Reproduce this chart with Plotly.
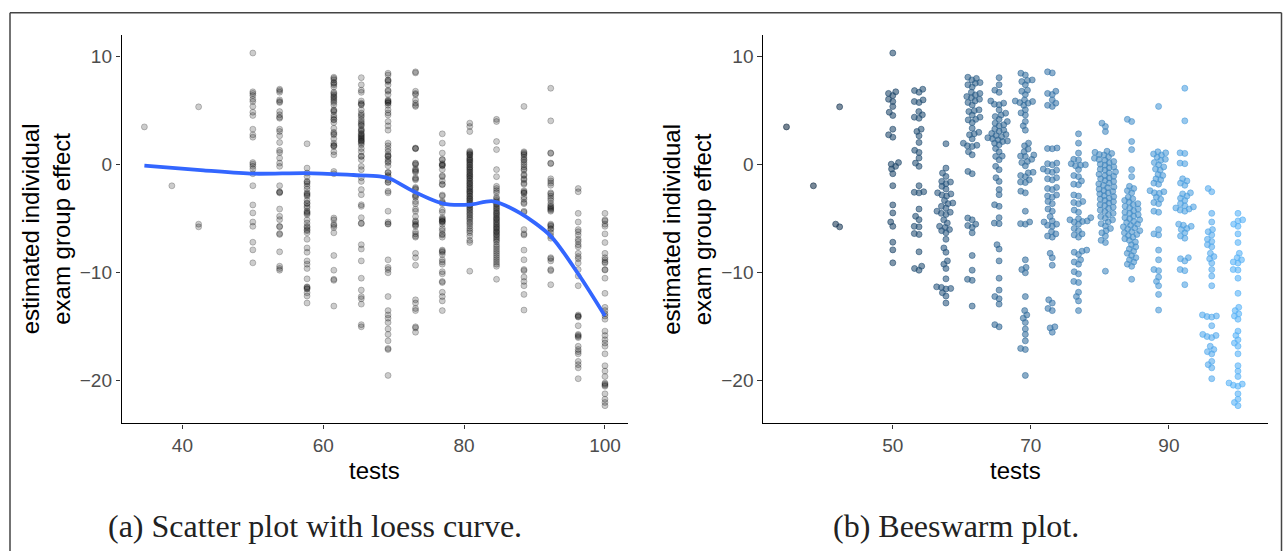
import math
import plotly.graph_objects as go

# ---------------- data ----------------
tests = [34.6, 38.5, 42.3, 50.0, 53.8, 57.7, 61.5, 65.4, 69.2, 73.1,
         76.9, 80.8, 84.6, 88.5, 92.3, 96.2, 100.0]

eff_t35 = [3.5]
eff_t38 = [-1.95]
eff_t42 = [5.36, -5.5, -5.75]
eff_t50 = [10.34, 6.75, 6.6, 6.4, 6.06, 5.85, 5.39, 4.86, 4.56, 3.29, 2.77, 2.55,
           0.2, 0.05, -0.15, -0.4, -0.83, -1.94, -3.72, -4.46, -5.3, -5.7, -7.17,
           -7.88, -9.08]
eff_t54 = [6.99, 6.86, 6.71, 6.0, 5.85, 5.76, 4.92, 4.62, 4.4, 4.3, 3.29, 3.08, 2.68,
           2.06, 1.33, 1.14, 0.62, 0.15, -0.15, -1.94, -2.5, -2.55, -2.6, -4.1, -4.77,
           -5.08, -5.7, -5.75, -6.37, -6.45, -8.06, -9.39, -9.6, -9.76]
eff_t58 = [1.94, -0.31, -0.77, -1.08, -1.54, -1.6, -1.75, -2.0, -2.25, -2.6, -2.7,
           -2.8, -2.9, -3.3, -3.54, -3.6, -3.85, -4.0, -4.3, -4.4, -4.5, -4.6, -5.1,
           -5.4, -5.7, -5.8, -6.0, -6.1, -6.3, -6.9, -7.7, -8.1, -8.9, -9.2, -9.6,
           -10.56, -11.3, -11.35, -11.45, -11.5, -11.85, -12.15, -12.8]
eff_t62 = [8.1, 7.99, 7.85, 7.6, 7.54, 7.4, 7.2, 6.71, 6.6, 6.46, 6.31, 6.2, 6.06,
           5.9, 5.76, 5.54, 5.08, 5.0, 4.92, 4.6, 4.4, 4.2, 4.15, 3.9, 3.38, 3.0,
           2.86, 2.77, 2.4, 1.99, 1.8, 1.75, 1.69, 1.2, 0.92, -0.62, -0.83, -4.93,
           -5.1, -5.5, -5.63, -5.8, -6.3, -8.4, -9.76, -10.6, -10.7, -13.08]
eff_t65 = [8.06, 7.4, 6.9, 6.7, 5.9, 5.7, 5.6, 5.55, 5.08, 4.77, 4.6, 4.46, 4.2, 4.0,
           3.85, 3.7, 3.6, 3.3, 3.2, 3.1, 2.9, 2.8, 2.7, 2.6, 2.5, 2.4, 2.3, 2.2,
           2.15, 2.0, 1.85, 1.5, 1.2, 0.8, 0.77, 0.46, -0.15, -0.46, -1.2, -1.54,
           -2.3, -2.77, -3.7, -3.85, -4.9, -5.4, -5.45, -7.4, -7.8, -8.9, -10.5,
           -11.6, -12.2, -12.4, -12.9, -14.8, -15.0]
eff_t69 = [8.47, 8.3, 7.85, 7.8, 7.7, 7.4, 6.9, 6.8, 6.5, 6.0, 5.9, 5.85, 5.75, 5.7,
           5.5, 5.08, 4.8, 4.6, 4.0, 3.6, 3.2, 2.0, 1.75, 1.45, 1.2, 0.9, 0.8, 0.77,
           0.5, 0.3, 0.2, -0.1, -0.7, -0.75, -1.0, -1.1, -1.4, -1.6, -1.65, -2.45,
           -2.6, -4.3, -5.3, -5.45, -5.5, -8.8, -9.5, -9.7, -10.0, -12.2, -13.5,
           -13.9, -14.2, -14.6, -15.2, -15.7, -16.3, -17.0, -17.1, -19.5]
eff_t73 = [8.6, 8.5, 6.8, 6.6, 6.5, 6.0, 5.7, 5.5, 5.4, 1.55, 1.5, 1.48, 0.15, 0.1,
           0.0, -0.4, -0.5, -0.6, -0.7, -1.2, -1.3, -1.4, -2.1, -2.2, -2.3, -2.8,
           -2.9, -3.0, -3.4, -3.6, -4.1, -4.3, -4.8, -5.2, -5.3, -5.5, -5.6, -5.7,
           -6.2, -6.4, -6.6, -6.7, -8.2, -8.6, -9.3, -12.5, -12.8, -13.3, -13.5,
           -15.0, -15.1, -15.5]
eff_t77 = [2.86, 2.0, 1.08, 0.5, 0.45, 0.1, 0.0, -0.05, -0.1, -0.45, -1.0, -1.1,
           -1.5, -1.8, -1.85, -2.8, -2.9, -3.4, -3.5, -3.6, -4.2, -4.4, -4.9, -5.0,
           -5.1, -5.2, -5.25, -5.3, -5.5, -5.9, -6.1, -6.4, -6.5, -6.7, -7.9, -8.0,
           -8.1, -8.3, -8.8, -9.0, -9.2, -9.9, -10.1, -10.8, -10.9, -11.8, -12.2,
           -12.6, -13.5]
eff_t81 = [3.85, 3.54, 3.07, 1.25, 1.15, 1.05, 0.95, 0.9, 0.72, 0.6, 0.48, 0.41,
           0.3, 0.18, 0.05, -0.04, -0.2, -0.27, -0.41, -0.5, -0.66, -0.75, -0.88,
           -1.0, -1.07, -1.22, -1.3, -1.46, -1.55, -1.7, -1.78, -1.9, -2.05, -2.12,
           -2.26, -2.4, -2.48, -2.6, -2.7, -2.86, -2.95, -3.1, -3.18, -3.3, -3.42,
           -3.55, -3.7, -3.78, -3.93, -4.05, -4.2, -4.33, -4.5, -4.62, -4.8, -4.95,
           -5.1, -5.3, -5.45, -5.66, -5.9, -6.1, -6.3, -6.6, -7.0, -7.2, -9.85]
eff_t85 = [4.2, 4.0, 2.15, 1.4, -0.45, -1.1, -2.0, -2.2, -2.4, -2.6, -3.0, -3.15,
           -3.3, -3.45, -3.6, -3.7, -3.85, -4.0, -4.1, -4.25, -4.4, -4.5, -4.62,
           -4.75, -4.9, -5.0, -5.1, -5.25, -5.35, -5.5, -5.6, -5.75, -5.85, -5.95,
           -6.1, -6.2, -6.3, -6.45, -6.55, -6.7, -6.85, -7.0, -7.15, -7.4, -7.6,
           -7.8, -8.0, -8.2, -8.4, -8.6, -8.8, -9.0, -9.2, -9.4, -10.6]
eff_t88 = [5.4, 1.2, 1.1, 1.0, 0.9, 0.7, 0.5, 0.4, 0.2, 0.0, -0.2, -0.4, -0.5, -0.9,
           -1.0, -1.3, -1.4, -1.7, -1.8, -2.4, -2.5, -2.6, -2.65, -3.0, -3.2, -3.5,
           -3.6, -4.3, -4.4, -6.0, -6.4, -6.5, -7.9, -8.8, -9.7, -9.8, -10.4,
           -10.8, -11.2, -12.0, -13.45]
eff_t92 = [7.08, 4.06, 1.1, 1.05, 0.15, 0.1, -1.3, -1.5, -1.7, -1.9, -2.6, -2.7,
           -2.9, -3.1, -3.3, -3.6, -3.8, -3.9, -4.0, -4.1, -4.2, -4.3, -5.5, -5.6,
           -5.7, -5.9, -6.0, -6.3, -6.6, -6.8, -8.6, -8.7, -8.9, -9.7, -9.8, -11.1]
eff_t96 = [-2.2, -2.5, -4.5, -5.3, -6.0, -6.2, -6.5, -6.9, -7.1, -7.4, -7.6, -8.2,
           -8.5, -8.7, -9.1, -9.7, -10.3, -11.2, -13.9, -14.0, -14.05, -14.1, -14.9,
           -15.7, -15.8, -15.9, -16.0, -16.8, -17.1, -17.3, -17.5, -18.2, -18.5,
           -18.8, -19.8]
eff_t100 = [-4.5, -5.1, -5.2, -5.5, -5.7, -6.4, -7.2, -8.2, -8.6, -8.8, -9.0, -9.1,
            -9.7, -9.75, -10.5, -11.9, -13.2, -13.5, -13.8, -14.0, -14.3, -15.4,
            -15.8, -16.2, -16.5, -16.8, -17.5, -18.6, -19.1, -19.6, -20.2, -20.3,
            -20.4, -20.5, -21.2, -21.7, -22.0, -22.3]

effects = [eff_t35, eff_t38, eff_t42, eff_t50, eff_t54, eff_t58, eff_t62, eff_t65,
           eff_t69, eff_t73, eff_t77, eff_t81, eff_t85, eff_t88, eff_t92, eff_t96,
           eff_t100]

# loess curve
loess_x = [34.6, 43.0, 50.1, 57.6, 64.3, 68.0, 69.5, 72.8, 77.0, 80.8, 84.1, 87.9,
           92.3, 96.4, 100.0]
loess_y = [-0.09, -0.52, -0.83, -0.77, -0.95, -1.08, -1.3, -2.46, -3.6, -3.69,
           -3.38, -4.46, -6.6, -10.3, -14.0]

x_ticks_a = [40, 60, 80, 100]
x_ticks_b = [50, 70, 90]
y_ticks = [-20, -10, 0, 10]

# ---------------- layout geometry ----------------
W, H = 1283, 551
PL_A = (121.5, 628.0)
PL_B = (763.0, 1268.0)
PT, PB = 35.3, 423.3
XR_A = [31.35, 103.27]
XR_B = [31.2, 104.35]
YR = [-23.93, 11.98]

px_per_y = (PB - PT) / (YR[1] - YR[0])
px_per_xb = (PL_B[1] - PL_B[0]) / (XR_B[1] - XR_B[0])


def swarm_offsets(vals, diam):
    """Beeswarm offsets (pixels) placing points in ascending order."""
    order = sorted(range(len(vals)), key=lambda i: vals[i])
    placed = []
    offs = [0.0] * len(vals)
    for i in order:
        yp = vals[i] * px_per_y
        cands = [0.0]
        for (xq, yq) in placed:
            dy = abs(yp - yq)
            if dy < diam:
                dx = math.sqrt(diam * diam - dy * dy)
                cands += [xq + dx, xq - dx]
        cands.sort(key=lambda c: (abs(c), c))
        for c in cands:
            ok = True
            for (xq, yq) in placed:
                if (c - xq) ** 2 + (yp - yq) ** 2 < diam * diam - 1e-6:
                    ok = False
                    break
            if ok:
                offs[i] = c
                placed.append((c, yp))
                break
    return offs


def lab_lerp(c1, c2, t):
    def to_lin(v):
        v /= 255
        return v / 12.92 if v <= 0.04045 else ((v + 0.055) / 1.055) ** 2.4

    def to_srgb(v):
        v = 12.92 * v if v <= 0.0031308 else 1.055 * v ** (1 / 2.4) - 0.055
        return max(0, min(255, round(v * 255)))

    def rgb2lab(c):
        r, g, b = [to_lin(int(c[i:i + 2], 16)) for i in (1, 3, 5)]
        X = (0.4124 * r + 0.3576 * g + 0.1805 * b) / 0.95047
        Y = (0.2126 * r + 0.7152 * g + 0.0722 * b)
        Z = (0.0193 * r + 0.1192 * g + 0.9505 * b) / 1.08883
        f = lambda u: u ** (1 / 3) if u > 0.008856 else 7.787 * u + 16 / 116
        fx, fy, fz = f(X), f(Y), f(Z)
        return 116 * fy - 16, 500 * (fx - fy), 200 * (fy - fz)

    def lab2rgb(L, a, b):
        fy = (L + 16) / 116
        fx = fy + a / 500
        fz = fy - b / 200
        g = lambda u: u ** 3 if u ** 3 > 0.008856 else (u - 16 / 116) / 7.787
        X, Y, Z = g(fx) * 0.95047, g(fy), g(fz) * 1.08883
        r = 3.2406 * X - 1.5372 * Y - 0.4986 * Z
        gg = -0.9689 * X + 1.8758 * Y + 0.0415 * Z
        bb = 0.0557 * X - 0.2040 * Y + 1.0570 * Z
        return to_srgb(r), to_srgb(gg), to_srgb(bb)

    l1, l2 = rgb2lab(c1), rgb2lab(c2)
    return lab2rgb(*[l1[k] + (l2[k] - l1[k]) * t for k in range(3)])


# ---------------- build traces ----------------
xa, ya = [], []
xb, yb, cb = [], [], []
tmin, tmax = min(tests), max(tests)
for t, vals in zip(tests, effects):
    offs = swarm_offsets(vals, 4.8)
    r, g, b = lab_lerp("#132B43", "#56B1F7", (t - tmin) / (tmax - tmin))
    for v, o in zip(vals, offs):
        xa.append(t)
        ya.append(v)
        xb.append(t + o / px_per_xb)
        yb.append(v)
        cb.append(f"rgba({r},{g},{b},0.58)")

fig = go.Figure()
fig.add_trace(go.Scatter(
    x=xa, y=ya, mode="markers", xaxis="x", yaxis="y",
    marker=dict(size=6, color="rgba(0,0,0,0.2)",
                line=dict(color="rgba(0,0,0,0.22)", width=1)),
    hoverinfo="skip"))
fig.add_trace(go.Scatter(
    x=loess_x, y=loess_y, mode="lines", xaxis="x", yaxis="y",
    line=dict(color="#3366FF", width=3.8, shape="spline", smoothing=0.8),
    hoverinfo="skip"))
fig.add_trace(go.Scatter(
    x=xb, y=yb, mode="markers", xaxis="x2", yaxis="y2",
    marker=dict(size=6, color=cb, line=dict(color=cb, width=1)),
    hoverinfo="skip"))

tickfont = dict(family="Liberation Sans, Arial, sans-serif", size=19, color="#4D4D4D")
axis_common = dict(showgrid=False, zeroline=False, showline=True, linecolor="black",
                   linewidth=1.4, ticks="outside", ticklen=4.5, tickwidth=1.3,
                   tickcolor="#333333", tickfont=tickfont)

ydom = [(H - PB) / H, (H - PT) / H]
fig.update_layout(
    width=W, height=H, margin=dict(l=0, r=0, t=0, b=0),
    paper_bgcolor="white", plot_bgcolor="white", showlegend=False,
    xaxis=dict(domain=[PL_A[0] / W, PL_A[1] / W], range=XR_A, tickvals=x_ticks_a,
               anchor="y", **axis_common),
    yaxis=dict(domain=ydom, range=YR, tickvals=y_ticks, anchor="x", **axis_common),
    xaxis2=dict(domain=[PL_B[0] / W, PL_B[1] / W], range=XR_B, tickvals=x_ticks_b,
                anchor="y2", **axis_common),
    yaxis2=dict(domain=ydom, range=YR, tickvals=y_ticks, anchor="x2", **axis_common),
)

title_font = dict(family="Liberation Sans, Arial, sans-serif", size=24, color="black")
cap_font = dict(family="Liberation Serif, DejaVu Serif, serif", size=32, color="#222222")
ann = []
for (x0, x1) in (PL_A, PL_B):
    ann.append(dict(text="tests", x=(x0 + x1) / 2 / W, y=(H - 470) / H, xref="paper",
                    yref="paper", showarrow=False, font=title_font,
                    xanchor="center", yanchor="middle"))
    ann.append(dict(text="estimated individual<br>exam group effect",
                    x=(x0 - 75.5) / W, y=(H - (PT + PB) / 2) / H, xref="paper",
                    yref="paper", showarrow=False, font=title_font, textangle=-90,
                    xanchor="center", yanchor="middle"))
ann.append(dict(text="(a) Scatter plot with loess curve.", x=314.5 / W, y=(H - 526) / H,
                xref="paper", yref="paper", showarrow=False, font=cap_font,
                xanchor="center", yanchor="middle"))
ann.append(dict(text="(b) Beeswarm plot.", x=956 / W, y=(H - 526) / H,
                xref="paper", yref="paper", showarrow=False, font=cap_font,
                xanchor="center", yanchor="middle"))
fig.update_layout(annotations=ann)

frame = dict(type="line", xref="paper", yref="paper",
             line=dict(color="#444444", width=1.5))
fig.update_layout(shapes=[
    dict(frame, x0=10 / W, x1=10 / W, y0=(H - 12.7) / H, y1=-0.05),
    dict(frame, x0=10 / W, x1=1281.5 / W, y0=(H - 12.7) / H, y1=(H - 12.7) / H),
    dict(frame, x0=1281.5 / W, x1=1281.5 / W, y0=(H - 12.7) / H, y1=-0.05),
])

fig.write_html("out.html", config={"displayModeBar": False},
               post_script="document.body.style.margin='0';"
                           "document.body.style.overflow='hidden';")
